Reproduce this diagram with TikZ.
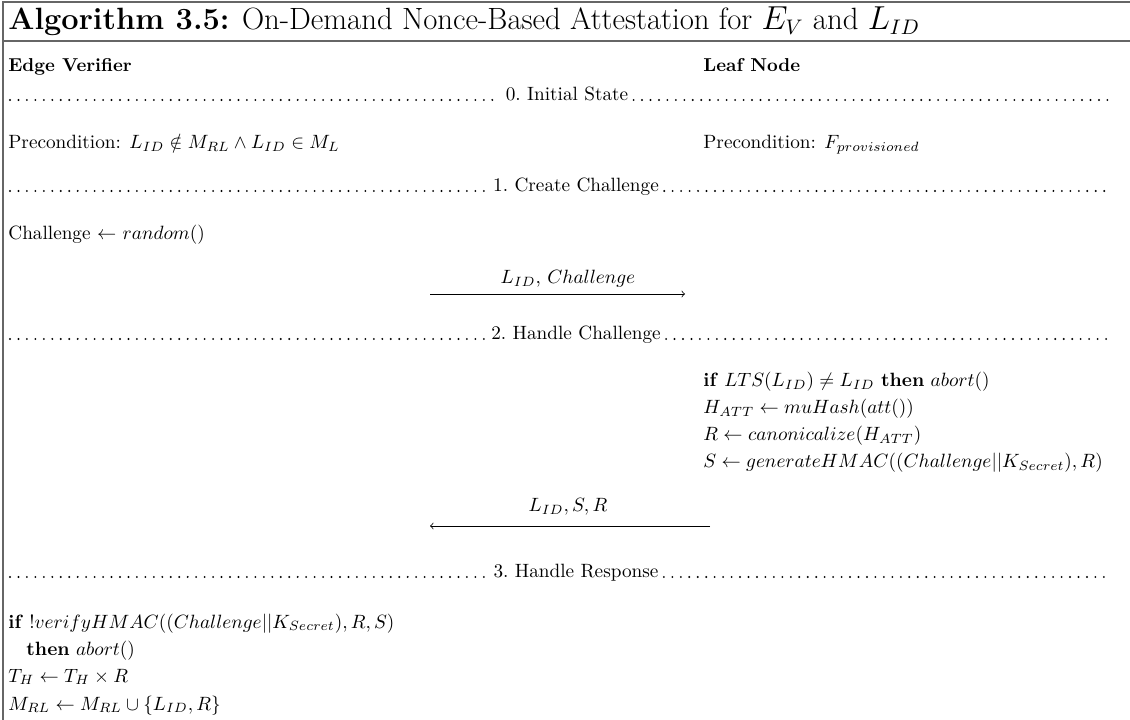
\documentclass[tikz,border=0pt]{standalone}
\usepackage{amsmath,amssymb}
\begin{document}
\begin{tikzpicture}[x=0.52pt,y=-0.52pt,
  txt/.style={anchor=base west,inner sep=0pt,font=\normalsize},
  head/.style={anchor=base west,inner sep=0pt,font=\fontsize{9.7}{12}\selectfont\bfseries},
  phase/.style={anchor=base,inner xsep=2.6pt,inner ysep=0pt,font=\normalsize},
  leader/.style={line width=1.1pt,line cap=round,dash pattern=on 0pt off 4.4pt},
  frame/.style={draw=black!60,line width=0.8pt},
  msg/.style={->,line width=0.4pt},
  lbl/.style={anchor=base,inner sep=0pt}]
\useasboundingbox (0,0) rectangle (1130,720);
\clip (0,0) rectangle (1130,720);
% box outline: top rule, title rule, left edge
\draw[frame] (3,760) -- (3,2) -- (1180,2);
\draw[frame] (3,41) -- (1180,41);
% title
\node[anchor=base west,inner sep=0pt,font=\fontsize{16}{19}\selectfont] (title) at (8,30)
  {\textbf{Algorithm 3.5:} On-Demand Nonce-Based Attestation for $E_V$ and $L_{ID}$};
% parties
\node[head] (ev) at (8,72) {Edge Verifier};
\node[head] (ln) at (703,72) {Leaf Node};
% phase 0
\node[phase] (p0) at (567,101) {0.~Initial State};
\coordinate (p0l) at (10,100);  \coordinate (p0r) at (1112,100);
\draw[leader] (p0l) -- (p0l -| p0.west);
\draw[leader] (p0r -| p0.east) -- (p0r);
\node[txt] (pre1) at (8,149) {Precondition: $L_{ID} \notin M_{RL} \land L_{ID} \in M_L$};
\node[txt] (pre2) at (703,149) {Precondition: $F_{provisioned}$};
% phase 1
\node[phase] (p1) at (576,192) {1.~Create Challenge};
\coordinate (p1l) at (10,191);  \coordinate (p1r) at (1112,191);
\draw[leader] (p1l) -- (p1l -| p1.west);
\draw[leader] (p1r -| p1.east) -- (p1r);
\node[txt] (ch) at (8,240) {Challenge $\gets$ $random()$};
\coordinate (a1s) at (430,294);
\coordinate (a1e) at (685,294);
\draw[msg] (a1s) -- (a1e);
\node[lbl] (m1) at (568,284) {$L_{ID}$, $Challenge$};
% phase 2
\node[phase] (p2) at (576,340) {2.~Handle Challenge};
\coordinate (p2l) at (10,339);  \coordinate (p2r) at (1112,339);
\draw[leader] (p2l) -- (p2l -| p2.west);
\draw[leader] (p2r -| p2.east) -- (p2r);
\node[txt] (l1) at (703,387) {\textbf{if} $LTS(L_{ID}) \neq L_{ID}$ \textbf{then} $abort()$};
\node[txt] (l2) at (703,414) {$H_{ATT} \gets muHash(att())$};
\node[txt] (l3) at (703,441) {$R \gets canonicalize(H_{ATT})$};
\node[txt] (l4) at (703,468) {$S \gets generateHMAC((Challenge||K_{Secret}), R)$};
\coordinate (a2s) at (710,526);
\coordinate (a2e) at (430,526);
\draw[msg] (a2s) -- (a2e);
\node[lbl] (m2) at (568,512) {$L_{ID}, S, R$};
% phase 3
\node[phase] (p3) at (576,578) {3.~Handle Response};
\coordinate (p3l) at (10,577);  \coordinate (p3r) at (1112,577);
\draw[leader] (p3l) -- (p3l -| p3.west);
\draw[leader] (p3r -| p3.east) -- (p3r);
\node[txt] (v1) at (8,628) {\textbf{if} $!verifyHMAC((Challenge||K_{Secret}), R, S)$};
\node[txt] (v2) at (26,655) {\textbf{then} $abort()$};
\node[txt] (v3) at (8,682) {$T_H \gets T_H \times R$};
\node[txt] (v4) at (8,710) {$M_{RL} \gets M_{RL} \cup \{L_{ID}, R\}$};
\end{tikzpicture}
\end{document}
